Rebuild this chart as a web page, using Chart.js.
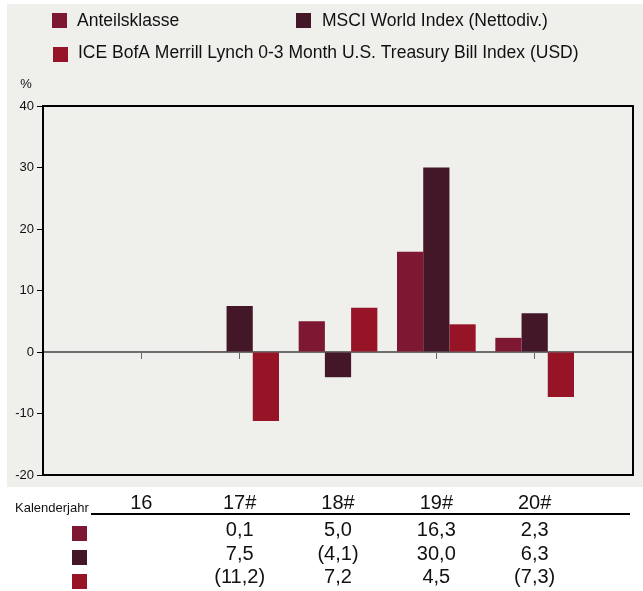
<!DOCTYPE html>
<html>
<head>
<meta charset="utf-8">
<script src="https://cdn.jsdelivr.net/npm/chart.js@4.4.1/dist/chart.umd.min.js"></script>
<style>
    html, body { margin: 0; padding: 0; background: #ffffff; }
    #wrap { width: 643px; height: 591px; position: relative; }
</style>
</head>
<body>
<div id="wrap"><canvas id="perfChart" width="643" height="591"></canvas></div>
<script>
// Kalenderjahre (Kategorien)
const years = ['16', '17#', '18#', '19#', '20#'];

// Jahresrenditen in %
const anteilsklasse = [null, 0.1, 5.0, 16.3, 2.3];
const msciWorld = [null, 7.5, -4.1, 30.0, 6.3];
const iceBofA = [null, -11.2, 7.2, 4.5, -7.3];

const seriesNames = [
    'Anteilsklasse',
    'MSCI World Index (Nettodiv.)',
    'ICE BofA Merrill Lynch 0-3 Month U.S. Treasury Bill Index (USD)'
];
const seriesColors = ['#7e1732', '#431628', '#961426'];

const yTicks = [-20, -10, 0, 10, 20, 30, 40];

const FONT = '"Liberation Sans", Arial, sans-serif';

// Werte im deutschen Format, negative in Klammern
function fmt(v) {
    if (v === null) return '';
    const s = Math.abs(v).toFixed(1).replace('.', ',');
    return v < 0 ? '(' + s + ')' : s;
}

// leere Kategorie links und rechts, damit die Abstände stimmen
const labels = [''].concat(years, ['']);
const pad = arr => [null].concat(arr, [null]);

const backgroundPlugin = {
    id: 'background',
    beforeDraw(chart) {
        const ctx = chart.ctx;
        ctx.save();
        ctx.fillStyle = '#efefeb';
        ctx.fillRect(7, 4, 643 - 7, 487 - 4);
        ctx.restore();
    }
};

const decorPlugin = {
    id: 'decor',
    afterDraw(chart) {
        const ctx = chart.ctx;
        const area = chart.chartArea;
        const xScale = chart.scales.x;
        ctx.save();

        // Rahmen um den Plotbereich
        ctx.strokeStyle = '#000000';
        ctx.lineWidth = 2;
        ctx.strokeRect(area.left, area.top, area.right - area.left, area.bottom - area.top);

        // Legende
        const legendPos = [
            { sx: 52, sy: 13, tx: 77, ty: 26 },
            { sx: 296, sy: 13, tx: 322, ty: 26 },
            { sx: 53, sy: 47, tx: 78, ty: 58 }
        ];
        ctx.font = '17.5px ' + FONT;
        ctx.textAlign = 'left';
        ctx.textBaseline = 'alphabetic';
        legendPos.forEach((p, i) => {
            ctx.fillStyle = seriesColors[i];
            ctx.fillRect(p.sx, p.sy, 15, 15);
            ctx.fillStyle = '#111111';
            ctx.fillText(seriesNames[i], p.tx, p.ty);
        });

        // Einheit
        ctx.font = '13px ' + FONT;
        ctx.textAlign = 'center';
        ctx.fillText('%', 26, 88);

        // Tabelle unter dem Diagramm
        ctx.textAlign = 'left';
        ctx.font = '13px ' + FONT;
        ctx.fillText('Kalenderjahr', 15, 512);

        ctx.strokeStyle = '#000000';
        ctx.lineWidth = 2;
        ctx.beginPath();
        ctx.moveTo(91, 514);
        ctx.lineTo(630, 514);
        ctx.stroke();

        ctx.font = '20px ' + FONT;
        ctx.textAlign = 'center';
        years.forEach((y, i) => {
            ctx.fillText(y, xScale.getPixelForValue(i + 1), 509);
        });

        const rows = [anteilsklasse, msciWorld, iceBofA];
        const rowBase = [536, 560, 583];
        const rowBox = [526, 550, 574];
        rows.forEach((vals, r) => {
            ctx.fillStyle = seriesColors[r];
            ctx.fillRect(72, rowBox[r], 15, 15);
            ctx.fillStyle = '#111111';
            vals.forEach((v, i) => {
                ctx.fillText(fmt(v), xScale.getPixelForValue(i + 1), rowBase[r]);
            });
        });

        ctx.restore();
    }
};

const ctx = document.getElementById('perfChart').getContext('2d');
new Chart(ctx, {
    type: 'bar',
    data: {
        labels: labels,
        datasets: [anteilsklasse, msciWorld, iceBofA].map((vals, i) => ({
            label: seriesNames[i],
            data: pad(vals),
            backgroundColor: seriesColors[i],
            borderWidth: 0,
            categoryPercentage: 0.8,
            barPercentage: 1.0
        }))
    },
    options: {
        responsive: false,
        animation: false,
        layout: {
            padding: { left: 0, top: 106, right: 10, bottom: 116 }
        },
        plugins: {
            legend: { display: false },
            tooltip: { enabled: false }
        },
        scales: {
            x: {
                position: { y: 0 },
                offset: false,
                grid: {
                    offset: false,
                    drawOnChartArea: false,
                    drawTicks: true,
                    tickLength: 6,
                    color: '#666666'
                },
                border: {
                    display: true,
                    color: '#6e6e6e',
                    width: 2,
                    dash: [2, 2]
                },
                ticks: { display: false }
            },
            y: {
                min: -20,
                max: 40,
                afterBuildTicks: scale => {
                    scale.ticks = yTicks.map(v => ({ value: v }));
                },
                afterFit: scale => {
                    scale.width = 43;
                },
                grid: {
                    drawOnChartArea: false,
                    tickLength: 6,
                    color: '#000000'
                },
                border: { color: '#000000', width: 2 },
                ticks: {
                    color: '#111111',
                    padding: 3,
                    font: { family: FONT, size: 13 }
                }
            }
        }
    },
    plugins: [backgroundPlugin, decorPlugin]
});
</script>
</body>
</html>
